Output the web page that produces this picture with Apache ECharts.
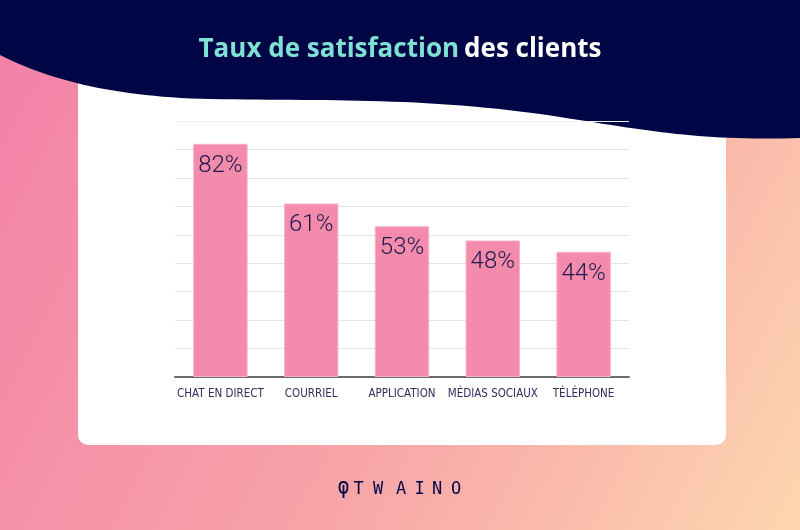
<!DOCTYPE html>
<html><head><meta charset="utf-8">
<script src="https://cdn.jsdelivr.net/npm/echarts@6/dist/echarts.min.js"></script>
<style>html,body{margin:0;padding:0;}#c{width:800px;height:530px;}</style>
</head><body><div id="c"></div>
<script>
const categories = ['CHAT EN DIRECT', 'COURRIEL', 'APPLICATION', 'MÉDIAS SOCIAUX', 'TÉLÉPHONE'];
const values = [82, 61, 53, 48, 44];
const yMax = 90;
const yInterval = 10;

const chart = echarts.init(document.getElementById('c'), null, {renderer: 'canvas'});
const gridColors = ['#e4e4e4','#e4e4e4','#e4e4e4','#e4e4e4','#e4e4e4','#e4e4e4','#e4e4e4','#e4e4e4','#e4e4e4','#f2f2f2'];

// decorative wave: sampled cubic beziers
function bez(p0, p1, p2, p3, n) {
  const out = [];
  for (let i = 1; i <= n; i++) {
    const t = i / n, u = 1 - t;
    out.push([u*u*u*p0[0] + 3*u*u*t*p1[0] + 3*u*t*t*p2[0] + t*t*t*p3[0],
              u*u*u*p0[1] + 3*u*u*t*p1[1] + 3*u*t*t*p2[1] + t*t*t*p3[1]]);
  }
  return out;
}
let wavePts = [[0,0],[0,55]];
wavePts = wavePts.concat(bez([0,55],[45,78],[110,97],[210,99],30));
wavePts = wavePts.concat(bez([210,99],[330,101],[430,97],[560,117],30));
wavePts = wavePts.concat(bez([560,117],[650,131],[700,141],[800,138],30));
wavePts.push([800,0]);

const logoLetters = ['T','W','A','I','N','O'];
const logoX = [358.5, 378, 401, 419.5, 437, 456];
const logo = logoLetters.map((ch, i) => ({
  type: 'text', z: 5, x: logoX[i], y: 490,
  style: {text: ch, fill: '#000645', font: '17px "DejaVu Sans Mono"', textAlign: 'center', textVerticalAlign: 'middle'}
}));

chart.setOption({
  backgroundColor: {
    type: 'linear', x: 0, y: 0.2, x2: 1, y2: 1,
    colorStops: [{offset: 0, color: '#f383a8'}, {offset: 0.55, color: '#f8a6a8'}, {offset: 1, color: '#fdd6b0'}]
  },
  title: {
    left: 'center', top: 32,
    text: '{a|Taux de satisfaction} {b|des clients}',
    textStyle: {
      rich: {
        a: {color: '#7fe0d4', fontSize: 26, fontWeight: 'bold', fontFamily: 'Open Sans'},
        b: {color: '#ffffff', fontSize: 26, fontWeight: 'bold', fontFamily: 'Open Sans'}
      }
    },
    z: 20
  },
  graphic: [
    {type: 'rect', z: 0, shape: {x: 78, y: 60, width: 648, height: 385, r: 10}, style: {fill: '#ffffff'}},
    {type: 'polygon', z: 1, shape: {points: wavePts}, style: {fill: '#000645'}},
    {type: 'polygon', z: 5, shape: {points: [[343.5,482],[347.5,487],[343.5,493],[339.5,487]], smooth: 0.6}, style: {fill: 'none', stroke: '#000645', lineWidth: 1.8}},
    {type: 'line', z: 5, shape: {x1: 343.5, y1: 485, x2: 343.5, y2: 498}, style: {stroke: '#000645', lineWidth: 1.8}}
  ].concat(logo),
  grid: {left: 175, right: 171, top: 121, bottom: 153},
  xAxis: {
    type: 'category', data: categories, z: 5,
    axisLine: {lineStyle: {color: '#6b6b6b', width: 2}},
    axisTick: {show: false},
    axisLabel: {interval: 0, color: '#2d2f5e', fontSize: 11.5, fontFamily: '"DejaVu Sans Condensed", Roboto', margin: 11}
  },
  yAxis: {
    type: 'value', min: 0, max: yMax, interval: yInterval, z: 5,
    axisLine: {show: false}, axisTick: {show: false}, axisLabel: {show: false},
    splitLine: {lineStyle: {color: gridColors, width: 1}}
  },
  series: [{
    type: 'bar', data: values, barWidth: '60%', z: 6,
    itemStyle: {color: '#f48bac', borderColor: '#f9b3c7', borderWidth: 1},
    label: {
      show: true, position: 'insideTop', distance: 10,
      formatter: '{c}%', color: '#1b1b4b', fontSize: 24, fontWeight: 300, fontFamily: 'Roboto'
    }
  }]
});
</script></body></html>
